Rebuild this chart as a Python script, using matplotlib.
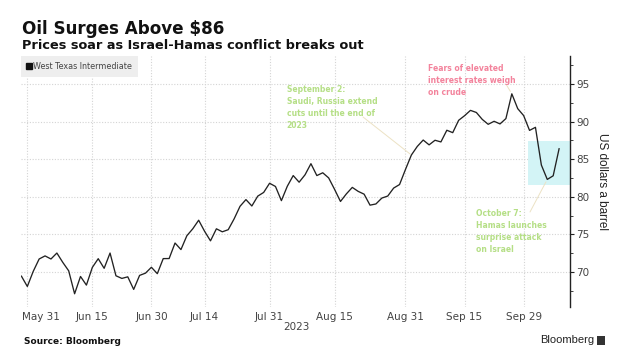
import numpy as np
import pandas as pd
import matplotlib
matplotlib.use('Agg')
import matplotlib.pyplot as plt
import matplotlib.transforms as mtransforms
from matplotlib.lines import Line2D
from matplotlib.patches import Rectangle

# WTI front-month, trading days only
holidays = ['2023-06-19', '2023-07-04', '2023-09-04']
dates = pd.bdate_range('2023-05-30', '2023-10-09', freq='C', holidays=holidays)

wti = [69.46, 68.09,
       70.10, 71.74, 72.15, 71.74, 72.53, 71.29, 70.17, 67.12, 69.42, 68.27, 70.62,
       71.78, 70.50, 72.53, 69.51, 69.16, 69.37, 67.70, 69.56, 69.86, 70.64,
       69.79, 71.79, 71.80, 73.86, 72.99, 74.83, 75.75, 76.89, 75.42, 74.15, 75.75,
       75.35, 75.63, 77.07, 78.74, 79.63, 78.78, 80.09, 80.58, 81.80,
       81.37, 79.49, 81.40, 82.82, 81.94, 82.92, 84.40, 82.82, 83.19, 82.51, 80.99,
       79.38, 80.39, 81.25, 80.72, 80.35, 78.89, 79.05, 79.83, 80.10, 81.16, 81.63, 83.63,
       85.55, 86.69, 87.54, 86.90, 87.51, 87.29, 88.84, 88.52, 90.16, 90.77,
       91.48, 91.20, 90.28, 89.63, 90.03, 89.68, 90.39, 93.68, 91.71, 90.79,
       88.82, 89.23, 84.22, 82.31, 82.79, 86.38]

tick_dates = ['2023-05-31', '2023-06-15', '2023-06-30', '2023-07-14', '2023-07-31',
              '2023-08-15', '2023-08-31', '2023-09-15', '2023-09-29']
tick_labels = ['May 31', 'Jun 15', 'Jun 30', 'Jul 14', 'Jul 31',
               'Aug 15', 'Aug 31', 'Sep 15', 'Sep 29']
y_ticks = [70, 75, 80, 85, 90, 95]

# highlighted range after Oct 7
box_low, box_high = 81.6, 87.4

x = np.arange(len(dates))
pos = {d.strftime('%Y-%m-%d'): i for i, d in enumerate(dates)}
tick_pos = [pos[d] for d in tick_dates]

plt.rcParams['font.family'] = 'DejaVu Sans'

fig = plt.figure(figsize=(6.22, 3.6), dpi=100)
ax = fig.add_axes([0.0333, 0.148, 0.8836, 0.6964])

ax.add_patch(Rectangle((pos['2023-09-29'] + 0.8, box_low), 10, box_high - box_low,
                       facecolor='#d3f4f6', edgecolor='none', zorder=1))
ax.plot(x, wti, color='#222222', lw=0.95, zorder=3)

ax.set_xlim(-0.12, 92.9)
ax.set_ylim(65.4, 98.7)

for s in ['top', 'left', 'bottom']:
    ax.spines[s].set_visible(False)
ax.spines['right'].set_color('#222222')
ax.spines['right'].set_linewidth(1.0)

ax.yaxis.tick_right()
ax.set_yticks(y_ticks)
ax.set_yticks(np.arange(67.5, 98, 5), minor=True)
ax.tick_params(axis='y', which='major', length=3, width=0.8, pad=1.5,
               labelsize=7.5, colors='#222222', labelcolor='#444444')
ax.tick_params(axis='y', which='minor', length=2.5, width=0.6, colors='#222222')
ax.set_xticks(tick_pos)
ax.set_xticklabels(tick_labels)
ax.tick_params(axis='x', length=0, pad=4, labelsize=7.5, labelcolor='#444444')
first = ax.get_xticklabels()[0]
first.set_ha('left')
first.set_transform(first.get_transform() +
                    mtransforms.ScaledTranslation(-5.6 / 100, 0, fig.dpi_scale_trans))

ax.grid(True, which='major', linestyle=(0, (1, 1.5)), color='#d4d4d4', lw=0.8)
ax.set_axisbelow(True)

leg = ax.legend(handles=[Line2D([], [], marker='s', color='#111111', linestyle='none',
                                markersize=4)],
                labels=['West Texas Intermediate'], loc='upper left',
                bbox_to_anchor=(0.0, 1.0), borderaxespad=0, fontsize=5.8,
                handlelength=0.5, handletextpad=0.3, borderpad=0.75,
                fancybox=False, framealpha=1, facecolor='#eeeeee', edgecolor='none',
                labelcolor='#444444')
leg.set_zorder(5)

# annotations
green = '#b5df86'
pink = '#f3839c'
lead = '#ece2c4'
note_size = 5.5
ax.annotate('', xy=(pos['2023-09-01'], wti[pos['2023-09-01']]), xytext=(363, 360 - 117),
            textcoords='figure pixels',
            arrowprops=dict(arrowstyle='-', color=lead, lw=0.7, shrinkA=0, shrinkB=1))
fig.text(286.7 / 622, 1 - 85 / 360,
         'September 2:\nSaudi, Russia extend\ncuts until the end of\n2023',
         color=green, fontsize=note_size, fontweight='bold', va='top', ha='left',
         linespacing=1.45)

ax.annotate('', xy=(pos['2023-09-27'], wti[pos['2023-09-27']]), xytext=(506.5, 360 - 85),
            textcoords='figure pixels',
            arrowprops=dict(arrowstyle='-', color=lead, lw=0.7, shrinkA=0, shrinkB=2))
fig.text(428.3 / 622, 1 - 64 / 360,
         'Fears of elevated\ninterest rates weigh\non crude',
         color=pink, fontsize=note_size, fontweight='bold', va='top', ha='left',
         linespacing=1.45)

ax.annotate('', xy=(pos['2023-10-05'], wti[pos['2023-10-05']]), xytext=(530, 360 - 212),
            textcoords='figure pixels',
            arrowprops=dict(arrowstyle='-', color=lead, lw=0.7, shrinkA=0, shrinkB=2))
fig.text(475.7 / 622, 1 - 209 / 360,
         'October 7:\nHamas launches\nsurprise attack\non Israel',
         color=green, fontsize=note_size, fontweight='bold', va='top', ha='left',
         linespacing=1.45)

# labels and titles
fig.text(601.7 / 622, 1 - 181.7 / 360, 'US dollars a barrel', rotation=270,
         ha='center', va='center', fontsize=8.5, color='#222222',
         family='Liberation Sans')
fig.text(296 / 622, 1 - 326.7 / 360, '2023', ha='center', va='center',
         fontsize=7.5, color='#444444')
fig.text(21.7 / 622, 1 - 34.3 / 360, 'Oil Surges Above $86', fontsize=12.1,
         fontweight='bold', color='#111111', ha='left', va='baseline')
fig.text(21.7 / 622, 1 - 49.3 / 360, 'Prices soar as Israel-Hamas conflict breaks out',
         fontsize=9.25, fontweight='bold', color='#111111', ha='left', va='baseline')
fig.text(23.8 / 622, 1 - 341 / 360, 'Source: Bloomberg', fontsize=6.5,
         fontweight='bold', color='#111111', ha='left', va='center')
fig.text(594 / 622, 1 - 340 / 360, 'Bloomberg', fontsize=8, color='#222222',
         ha='right', va='center', family='Liberation Sans')
fig.patches.append(Rectangle((597 / 622, 1 - 345 / 360), 8 / 622, 9 / 360,
                             transform=fig.transFigure, facecolor='#333333',
                             edgecolor='none'))

fig.savefig('out.png', dpi=100)
